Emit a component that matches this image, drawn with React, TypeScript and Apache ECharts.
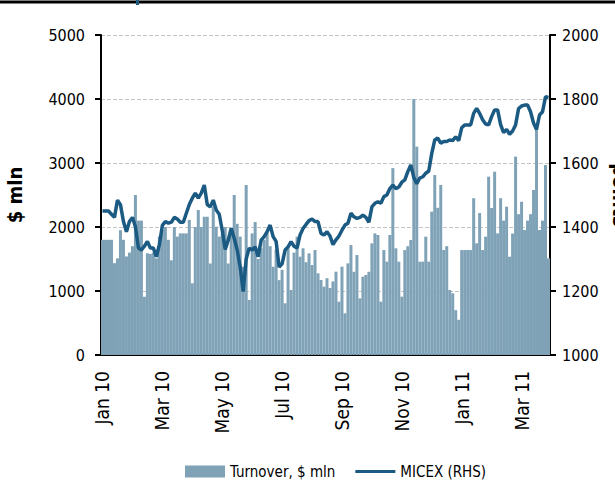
import React, { useEffect, useRef } from "react";
import * as echarts from "echarts";

// Tick labels for the x axis (every second month)
const monthLabels = ["Jan 10", "Mar 10", "May 10", "Jul 10", "Sep 10", "Nov 10", "Jan 11", "Mar 11"];
const periodsPerLabel = 20;

// Turnover, $ mln (approx. every ~3 trading days, Jan 2010 – Mar 2011)
const turnover = [
  1800, 1800, 1800, 1800, 1435, 1510, 1950, 1800, 1540, 1600,
  1700, 2500, 2100, 2100, 910, 1590, 1580, 1600, 1510, 1850,
  1950, 2000, 1800, 1480, 2000, 1850, 1900, 1900, 1900, 2110,
  1120, 2000, 2265, 2000, 2160, 2160, 1430, 2317, 2005, 1850,
  1900, 2000, 1430, 1900, 2500, 2050, 1850, 1380, 2656, 860,
  1900, 2080, 1500, 1667, 1800, 1900, 1700, 1380, 1650, 1170,
  1330, 808, 1667, 1016, 1600, 1849, 1536, 1667, 1450, 1588,
  1406, 1640, 1276, 1172, 1068, 1200, 1047, 1150, 1302, 833,
  1380, 651, 1432, 1718, 1300, 1562, 885, 1224, 1250, 1300,
  1745, 1900, 1875, 833, 1640, 1458, 1875, 2920, 1667, 1458,
  911, 1640, 1700, 1797, 4000, 3255, 1458, 1458, 1849, 1458,
  2240, 2812, 2300, 2656, 1640, 1700, 1016, 964, 700, 550,
  1640, 1640, 1640, 1640, 2450, 1745, 2218, 1640, 1849, 2786,
  2296, 2864, 1900, 2450, 2100, 2317, 1536, 1900, 3100, 2200,
  2395, 1953, 2100, 2200, 2578, 3600, 1953, 2100, 2968, 1510,
];

// MICEX index, points (RHS)
const micex = [
  1450, 1450, 1450, 1440, 1430, 1484, 1470, 1417, 1385, 1417,
  1430, 1401, 1335, 1328, 1340, 1355, 1334, 1334, 1307, 1345,
  1405, 1417, 1412, 1415, 1430, 1425, 1415, 1415, 1443, 1470,
  1490, 1506, 1490, 1506, 1531, 1470, 1463, 1484, 1453, 1440,
  1390, 1330, 1359, 1396, 1365, 1328, 1275, 1198, 1300, 1334,
  1328, 1338, 1307, 1359, 1370, 1385, 1406, 1370, 1355, 1275,
  1285, 1328, 1338, 1354, 1340, 1334, 1375, 1395, 1408, 1420,
  1425, 1417, 1417, 1380, 1375, 1385, 1372, 1345, 1360, 1372,
  1390, 1406, 1412, 1443, 1432, 1427, 1430, 1437, 1430, 1415,
  1463, 1474, 1479, 1474, 1495, 1500, 1520, 1531, 1520, 1525,
  1540, 1547, 1573, 1594, 1555, 1535, 1553, 1557, 1568, 1575,
  1630, 1672, 1678, 1662, 1667, 1667, 1672, 1670, 1682, 1670,
  1710, 1719, 1719, 1719, 1755, 1771, 1755, 1735, 1722, 1719,
  1745, 1766, 1766, 1720, 1695, 1705, 1690, 1700, 1719, 1770,
  1778, 1781, 1781, 1760, 1725, 1705, 1750, 1760, 1807, 1805,
];

const periods = turnover.map((_, i) => String(i));

const FONT = "'DejaVu Sans Condensed', 'Liberation Sans Narrow', 'Liberation Sans', sans-serif";

export default function App() {
  const ref = useRef<HTMLDivElement>(null);
  useEffect(() => {
    if (!ref.current) return;
    const chart = echarts.init(ref.current, undefined, { renderer: "svg" });
    chart.setOption({
      animation: false,
      backgroundColor: "#ffffff",
      textStyle: { fontFamily: FONT },
      grid: { left: 101, right: 65, top: 35, bottom: 125, containLabel: false, outerBoundsMode: "none" },
      graphic: [
        { type: "line", shape: { x1: 0, y1: 2, x2: 615, y2: 2 }, style: { stroke: "#000", lineWidth: 3 } },
        { type: "rect", shape: { x: 136, y: 0, width: 3, height: 5 }, style: { fill: "#1b5a82" } },
      ],
      legend: {
        left: 180,
        top: 459,
        itemWidth: 40,
        itemHeight: 12,
        itemGap: 20,
        textStyle: { fontFamily: FONT, fontSize: 15, color: "#000" },
        data: [
          { name: "Turnover, $ mln", icon: "rect" },
          { name: "MICEX (RHS)", icon: "path://M0 0H40V3H0Z", itemStyle: { color: "#1b5a82" } },
        ],
      },
      xAxis: {
        type: "category",
        data: periods,
        boundaryGap: true,
        axisLine: { lineStyle: { color: "#000", width: 2 } },
        axisTick: {
          alignWithLabel: true,
          length: 5,
          interval: (i: number) => i % periodsPerLabel === 0,
          lineStyle: { color: "#000", width: 2 },
        },
        axisLabel: {
          interval: (i: number) => i % periodsPerLabel === 0,
          rotate: 90,
          margin: 16,
          fontFamily: FONT,
          fontSize: 19,
          color: "#000",
          formatter: (_v: string, i: number) =>
            i % periodsPerLabel === 0 ? monthLabels[i / periodsPerLabel] ?? "" : "",
        },
        splitLine: { show: false },
      },
      yAxis: [
        {
          type: "value",
          min: 0,
          max: 5000,
          interval: 1000,
          name: "$ mln",
          nameLocation: "middle",
          nameRotate: 90,
          nameGap: 76,
          nameTextStyle: { fontFamily: FONT, fontSize: 20, fontWeight: "bold", color: "#000" },
          axisLine: { show: true, lineStyle: { color: "#000", width: 2 } },
          axisTick: { show: true, length: 6, lineStyle: { color: "#000", width: 2 } },
          axisLabel: { margin: 16, fontFamily: FONT, fontSize: 16, color: "#000", formatter: (v: number) => String(v) },
          splitLine: { show: true, lineStyle: { color: "#c4c4c4", type: "dashed", width: 1 } },
        },
        {
          type: "value",
          min: 1000,
          max: 2000,
          interval: 200,
          name: "points",
          nameLocation: "middle",
          nameRotate: -90,
          nameGap: 55,
          nameTextStyle: { fontFamily: FONT, fontSize: 20, fontWeight: "bold", color: "#000" },
          axisLine: { show: true, lineStyle: { color: "#000", width: 2 } },
          axisTick: { show: true, length: 6, lineStyle: { color: "#000", width: 2 } },
          axisLabel: { margin: 12, fontFamily: FONT, fontSize: 16, color: "#000", formatter: (v: number) => String(v) },
          splitLine: { show: false },
        },
      ],
      series: [
        {
          name: "Turnover, $ mln",
          type: "bar",
          yAxisIndex: 0,
          data: turnover,
          barCategoryGap: "0%",
          itemStyle: { color: "#7fa2b7" },
        },
        {
          name: "MICEX (RHS)",
          type: "line",
          yAxisIndex: 1,
          data: micex,
          symbol: "none",
          lineStyle: { color: "#1b5a82", width: 3.5 },
          itemStyle: { color: "#1b5a82" },
        },
      ],
    });
    return () => chart.dispose();
  }, []);
  return <div ref={ref} style={{ position: "absolute", left: 0, top: 0, width: 615, height: 480 }} />;
}
